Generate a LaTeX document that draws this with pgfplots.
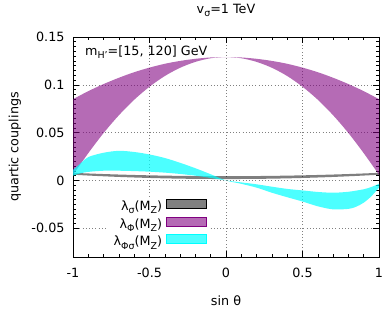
\documentclass[border=0pt]{standalone}
\usepackage{fontspec}
\setmainfont{DejaVu Sans}
\usepackage{pgfplots}
\pgfplotsset{compat=1.18}
\usepgfplotslibrary{fillbetween}
\newcommand\sub[1]{\raisebox{-0.45ex}{\fontsize{9.5}{10}\selectfont #1}}
\definecolor{gcol}{RGB}{0,0,0}
\definecolor{mcol}{RGB}{128,0,128}
\definecolor{ccol}{RGB}{0,255,255}
\begin{document}
\begin{tikzpicture}[font=\fontsize{12.8}{15}\selectfont]
\begin{axis}[name=ax, scale only axis, width=306bp, height=220bp,
  xmin=-1, xmax=1, ymin=-0.08, ymax=0.15,
  xtick={-1,-0.5,0,0.5,1}, xticklabels={-1,-0.5,0,0.5,1},
  ytick={-0.05,0,0.05,0.1,0.15}, yticklabels={-0.05,0,0.05,0.1,0.15},
  minor x tick num=4, minor y tick num=9,
  tick align=inside, major tick length=6bp, minor tick length=3bp,
  every tick/.style={black, line width=0.6bp},
  axis line style={line width=0.8bp},
  grid=major, grid style={black!50, line width=0.6bp, dash pattern=on 0.6bp off 2.6bp},
  xticklabel style={yshift=-8bp},
  yticklabel style={xshift=-5bp},
  title={v\sub{σ}=1 TeV},
  title style={at={(axis description cs:0.5,1.095)}, anchor=center},
  xlabel={sin θ},
  xlabel style={at={(axis description cs:0.5,-0.2)}, anchor=center},
  ylabel={quartic couplings},
  ylabel style={at={(axis description cs:-0.19,0.5)}, anchor=center},
  legend plot pos=right,
  legend cell align=right,
  legend image code/.code={\draw[#1] (0bp,-0.5bp) rectangle (40bp,8.5bp);},
  legend style={draw=none, fill=white, at={(rel axis cs:0.448,0.273)}, anchor=north east,
    nodes={text height=8.5bp, text depth=3bp, inner ysep=2.9bp, inner xsep=4bp}, row sep=0bp},
]
% lambda_sigma (grey)
\addplot[name path=gU, draw=none, forget plot, smooth] coordinates {
(-1,0.0080)(-0.9,0.00734)(-0.8,0.00674)(-0.7,0.00622)(-0.6,0.00576)(-0.5,0.00538)(-0.4,0.00506)(-0.3,0.00482)(-0.2,0.00464)(-0.1,0.00454)(0,0.0045)
(0.1,0.00454)(0.2,0.00464)(0.3,0.00482)(0.4,0.00506)(0.5,0.00538)(0.6,0.00576)(0.7,0.00622)(0.8,0.00674)(0.9,0.00734)(1,0.0080)};
\addplot[name path=gL, draw=none, forget plot, smooth] coordinates {
(-1,0.0060)(-0.9,0.00515)(-0.8,0.00438)(-0.7,0.0037)(-0.6,0.00312)(-0.5,0.00262)(-0.4,0.00222)(-0.3,0.0019)(-0.2,0.00168)(-0.1,0.00155)(0,0.0015)
(0.1,0.00155)(0.2,0.00168)(0.3,0.0019)(0.4,0.00222)(0.5,0.00262)(0.6,0.00312)(0.7,0.0037)(0.8,0.00438)(0.9,0.00515)(1,0.0060)};
\addplot[fill=gcol, fill opacity=0.5, draw=none, forget plot] fill between[of=gU and gL];
% lambda_Phi (magenta)
\addplot[name path=mU, draw=none, forget plot, smooth] coordinates {
(-1,0.085)(-0.9,0.0934)(-0.8,0.1008)(-0.7,0.1074)(-0.6,0.1132)(-0.5,0.1180)(-0.4,0.1220)(-0.3,0.1250)(-0.2,0.1272)(-0.1,0.1286)(0,0.1290)
(0.1,0.1286)(0.2,0.1272)(0.3,0.1250)(0.4,0.1220)(0.5,0.1180)(0.6,0.1132)(0.7,0.1074)(0.8,0.1008)(0.9,0.0934)(1,0.085)};
\addplot[name path=mL, draw=none, forget plot, smooth] coordinates {
(-1,0.006)(-0.9,0.0286)(-0.8,0.0496)(-0.7,0.0682)(-0.6,0.0844)(-0.5,0.0980)(-0.4,0.1092)(-0.3,0.1178)(-0.2,0.1240)(-0.1,0.1278)(0,0.1290)
(0.1,0.1278)(0.2,0.1240)(0.3,0.1178)(0.4,0.1092)(0.5,0.0980)(0.6,0.0844)(0.7,0.0682)(0.8,0.0496)(0.9,0.0286)(1,0.006)};
\addplot[fill=mcol, fill opacity=0.58, draw=none, forget plot] fill between[of=mU and mL];
% lambda_PhiSigma (cyan)
\addplot[name path=cA, draw=none, forget plot, smooth] coordinates {
(-1,0.011)(-0.95,0.018)(-0.9,0.0245)(-0.8,0.029)(-0.7,0.031)(-0.6,0.0298)(-0.5,0.0272)(-0.4,0.0235)(-0.3,0.0185)(-0.2,0.0128)(-0.1,0.0065)(0,0)
(0.1,-0.0035)(0.2,-0.0075)(0.3,-0.0128)(0.4,-0.0175)(0.5,-0.022)(0.6,-0.027)(0.7,-0.0302)(0.8,-0.0297)(0.85,-0.0275)(0.9,-0.0232)(0.95,-0.0165)(1,-0.0075)};
\addplot[name path=cB, draw=none, forget plot, smooth] coordinates {
(-1,0.005)(-0.95,0.0075)(-0.9,0.009)(-0.8,0.0102)(-0.7,0.0102)(-0.6,0.0098)(-0.5,0.0092)(-0.4,0.0082)(-0.3,0.0068)(-0.2,0.005)(-0.1,0.0027)(0,0)
(0.1,-0.002)(0.2,-0.004)(0.3,-0.0065)(0.4,-0.0088)(0.5,-0.0104)(0.6,-0.012)(0.7,-0.0128)(0.8,-0.0118)(0.9,-0.0092)(0.95,-0.0068)(1,-0.0035)};
\addplot[fill=ccol, fill opacity=0.7, draw=none, forget plot] fill between[of=cA and cB];
\addlegendimage{fill=gcol!50, draw=black, line width=0.8bp}
\addlegendentry{λ\sub{σ}(M\sub{Z})}
\addlegendimage{fill=mcol!58, draw=mcol, line width=0.8bp}
\addlegendentry{λ\sub{Φ}(M\sub{Z})}
\addlegendimage{fill=ccol!70, draw=ccol, line width=0.8bp}
\addlegendentry{λ\sub{Φσ}(M\sub{Z})}
\node[anchor=base west] at (rel axis cs:0.028,0.918) {m\sub{H'}=[15, 120] GeV};
\end{axis}
\pgfresetboundingbox
\path ([xshift=-73bp,yshift=-53bp]ax.south west) rectangle ([xshift=11bp,yshift=37bp]ax.north east);
\end{tikzpicture}
\end{document}
